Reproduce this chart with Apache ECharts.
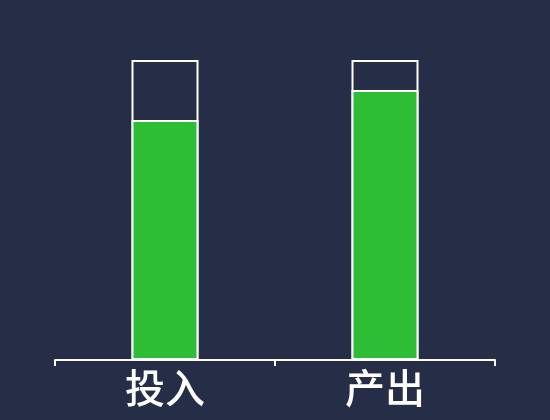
<!DOCTYPE html>
<html><head><meta charset="utf-8">
<script src="https://cdn.jsdelivr.net/npm/echarts@6/dist/echarts.min.js"></script>
<style>html,body{margin:0;padding:0;background:#262d47;}#c{width:550px;height:420px;}</style>
</head><body><div id="c"></div>
<script>
const categories = ['投入', '产出'];
const totalValues = [100, 100];
const actualValues = [80, 90];

const chart = echarts.init(document.getElementById('c'));
chart.setOption({
  backgroundColor: '#262d47',
  animation: false,
  grid: { left: 55, right: 55, top: 60, bottom: 60 },
  xAxis: {
    type: 'category',
    data: categories,
    axisLine: { lineStyle: { color: '#ffffff', width: 2 } },
    axisTick: { show: true, length: 6, lineStyle: { color: '#ffffff', width: 2 } },
    axisLabel: { color: '#ffffff', fontSize: 40, fontWeight: 500, margin: 8, fontFamily: 'Noto Sans CJK SC' }
  },
  yAxis: { type: 'value', min: 0, max: 100, show: false, splitLine: { show: false } },
  series: [
    {
      type: 'bar', data: totalValues, barWidth: 67, barGap: '-100%', z: 1,
      itemStyle: { color: 'rgba(0,0,0,0)', borderColor: '#ffffff', borderWidth: 2 }
    },
    {
      type: 'bar', data: actualValues, barWidth: 67, barGap: '-100%', z: 2,
      itemStyle: { color: '#2dbe36', borderColor: '#ffffff', borderWidth: 2 }
    }
  ]
});
</script></body></html>
